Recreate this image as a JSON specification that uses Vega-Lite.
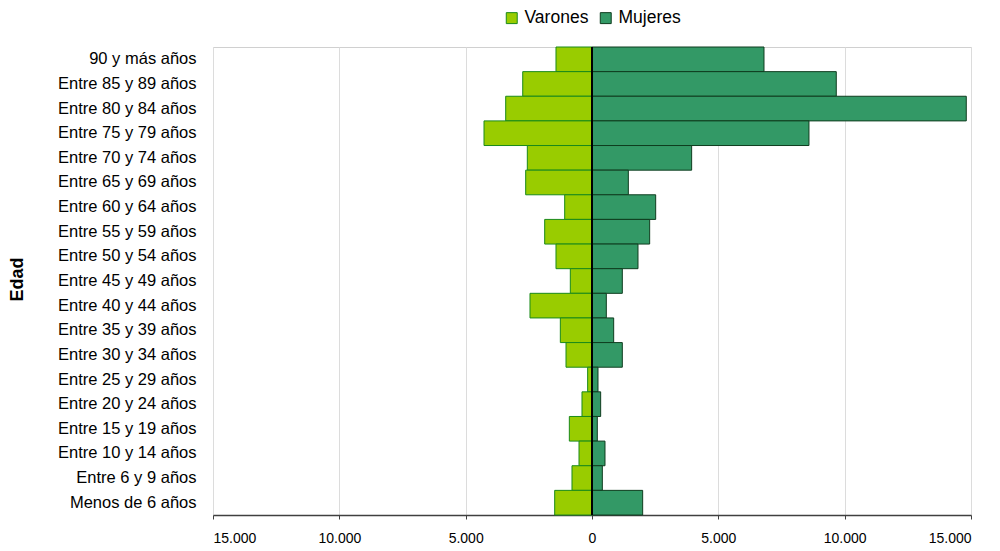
{
  "$schema": "https://vega.github.io/schema/vega-lite/v6.json",
  "width": 758,
  "height": 468,
  "autosize": {"type": "none"},
  "padding": {"left": 213, "top": 47, "right": 29, "bottom": 36},
  "background": "white",
  "config": {
    "font": "Liberation Sans",
    "view": {"stroke": "#d0d0d0", "strokeWidth": 1}
  },
  "data": {
    "values": [
      {"edad": "90 y más años", "sexo": "Varones", "valor": -1425},
      {"edad": "Entre 85 y 89 años", "sexo": "Varones", "valor": -2742},
      {"edad": "Entre 80 y 84 años", "sexo": "Varones", "valor": -3416},
      {"edad": "Entre 75 y 79 años", "sexo": "Varones", "valor": -4274},
      {"edad": "Entre 70 y 74 años", "sexo": "Varones", "valor": -2560},
      {"edad": "Entre 65 y 69 años", "sexo": "Varones", "valor": -2625},
      {"edad": "Entre 60 y 64 años", "sexo": "Varones", "valor": -1081},
      {"edad": "Entre 55 y 59 años", "sexo": "Varones", "valor": -1873},
      {"edad": "Entre 50 y 54 años", "sexo": "Varones", "valor": -1425},
      {"edad": "Entre 45 y 49 años", "sexo": "Varones", "valor": -858},
      {"edad": "Entre 40 y 44 años", "sexo": "Varones", "valor": -2454},
      {"edad": "Entre 35 y 39 años", "sexo": "Varones", "valor": -1253},
      {"edad": "Entre 30 y 34 años", "sexo": "Varones", "valor": -1029},
      {"edad": "Entre 25 y 29 años", "sexo": "Varones", "valor": -172},
      {"edad": "Entre 20 y 24 años", "sexo": "Varones", "valor": -396},
      {"edad": "Entre 15 y 19 años", "sexo": "Varones", "valor": -897},
      {"edad": "Entre 10 y 14 años", "sexo": "Varones", "valor": -514},
      {"edad": "Entre 6 y 9 años", "sexo": "Varones", "valor": -792},
      {"edad": "Menos de 6 años", "sexo": "Varones", "valor": -1477},
      {"edad": "90 y más años", "sexo": "Mujeres", "valor": 6807},
      {"edad": "Entre 85 y 89 años", "sexo": "Mujeres", "valor": 9668},
      {"edad": "Entre 80 y 84 años", "sexo": "Mujeres", "valor": 14813},
      {"edad": "Entre 75 y 79 años", "sexo": "Mujeres", "valor": 8587},
      {"edad": "Entre 70 y 74 años", "sexo": "Mujeres", "valor": 3944},
      {"edad": "Entre 65 y 69 años", "sexo": "Mujeres", "valor": 1438},
      {"edad": "Entre 60 y 64 años", "sexo": "Mujeres", "valor": 2520},
      {"edad": "Entre 55 y 59 años", "sexo": "Mujeres", "valor": 2282},
      {"edad": "Entre 50 y 54 años", "sexo": "Mujeres", "valor": 1820},
      {"edad": "Entre 45 y 49 años", "sexo": "Mujeres", "valor": 1200},
      {"edad": "Entre 40 y 44 años", "sexo": "Mujeres", "valor": 567},
      {"edad": "Entre 35 y 39 años", "sexo": "Mujeres", "valor": 858},
      {"edad": "Entre 30 y 34 años", "sexo": "Mujeres", "valor": 1200},
      {"edad": "Entre 25 y 29 años", "sexo": "Mujeres", "valor": 237},
      {"edad": "Entre 20 y 24 años", "sexo": "Mujeres", "valor": 343},
      {"edad": "Entre 15 y 19 años", "sexo": "Mujeres", "valor": 210},
      {"edad": "Entre 10 y 14 años", "sexo": "Mujeres", "valor": 514},
      {"edad": "Entre 6 y 9 años", "sexo": "Mujeres", "valor": 409},
      {"edad": "Menos de 6 años", "sexo": "Mujeres", "valor": 2005}
    ]
  },
  "layer": [
    {
      "mark": {"type": "bar", "strokeWidth": 1},
      "encoding": {
        "y": {
          "field": "edad",
          "type": "nominal",
          "sort": null,
          "scale": {"paddingInner": 0, "paddingOuter": 0},
          "axis": {
            "title": "Edad",
            "titleFontSize": 18,
            "titleFontWeight": "bold",
            "titleColor": "black",
            "titleX": -196,
            "titleY": 232,
            "titleAngle": -90,
            "titleAlign": "center",
            "titleBaseline": "middle",
            "labelFontSize": 16.5,
            "labelColor": "black",
            "labelPadding": 17,
            "ticks": false,
            "domain": false
          }
        },
        "x": {
          "field": "valor",
          "type": "quantitative",
          "scale": {"domain": [-15000, 15000], "nice": false},
          "axis": {
            "title": null,
            "values": [-15000, -10000, -5000, 0, 5000, 10000, 15000],
            "labelExpr": "replace(format(abs(datum.value), ',d'), ',', '.')",
            "labelFontSize": 14,
            "labelColor": "black",
            "labelPadding": 12,
            "gridColor": "#dcdcdc",
            "domainColor": "#404040",
            "domainWidth": 1.5,
            "tickColor": "#404040",
            "tickSize": 4
          }
        },
        "color": {
          "field": "sexo",
          "type": "nominal",
          "scale": {"domain": ["Varones", "Mujeres"], "range": ["#99CC00", "#339966"]},
          "legend": {
            "title": null,
            "orient": "none",
            "direction": "horizontal",
            "legendX": 290,
            "legendY": -38,
            "labelFontSize": 17.5,
            "labelColor": "black",
            "symbolType": "square",
            "symbolSize": 120,
            "symbolStrokeWidth": 1,
            "columnPadding": 8,
            "labelOffset": 4
          }
        },
        "stroke": {
          "field": "sexo",
          "type": "nominal",
          "scale": {"domain": ["Varones", "Mujeres"], "range": ["#1a8a1a", "#0f3d1f"]}
        }
      }
    },
    {
      "mark": {"type": "rule", "color": "black", "strokeWidth": 2},
      "encoding": {"x": {"datum": 0}}
    }
  ]
}
